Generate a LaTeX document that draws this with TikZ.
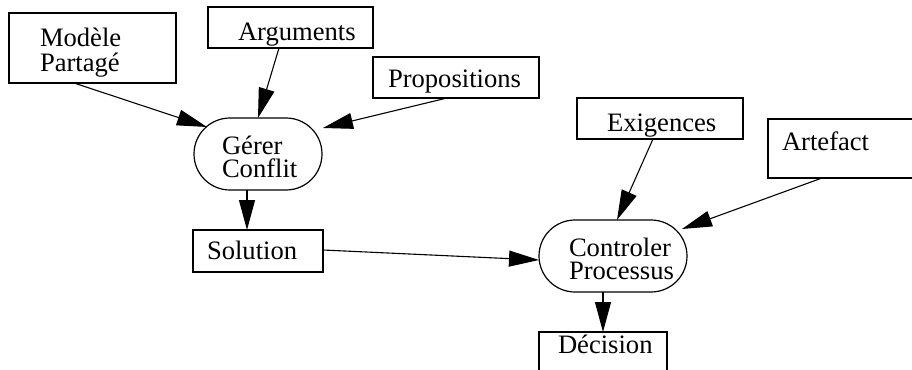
\documentclass[tikz,border=0pt]{standalone}
\usepackage{fontspec}
\setmainfont{Liberation Serif}
\usetikzlibrary{arrows.meta,calc}

\begin{document}
\begin{tikzpicture}[x=0.5pt,y=-0.5pt,
  box/.style={draw,line width=0.6pt,inner sep=0pt,outer sep=0pt},
  act/.style={box,rounded corners=18pt},
  lbl/.style={inner sep=0pt,outer sep=0pt,anchor=base west,align=left,
    font=\fontsize{13.3}{12.5}\selectfont},
  tight/.style={font=\fontsize{13.3}{11.5}\selectfont},
  conn/.style={-{Triangle[length=15pt,width=8pt]},line width=0.55pt}]
\useasboundingbox (0,0) rectangle (912,370);
\clip (0,0) rectangle (912,370);

% boxes (centres in pixel units, sizes in pt)
\node[box,minimum width=83.5pt,minimum height=35pt]   (mod)  at (92.5,48)   {};
\node[box,minimum width=82.5pt,minimum height=20.5pt] (arg)  at (290.5,27.5) {};
\node[box,minimum width=83pt,minimum height=20.5pt]   (prop) at (456,77.5)  {};
\node[act,minimum width=64pt,minimum height=36pt]     (ger)  at (258,154)   {};
\node[box,minimum width=65pt,minimum height=21pt]     (sol)  at (258,251)   {};
\node[box,minimum width=83pt,minimum height=20.5pt]   (exi)  at (660,118.5) {};
\node[box,minimum width=83pt,minimum height=29.5pt]   (art)  at (851,148.5) {};
\node[act,minimum width=74pt,minimum height=36pt]     (ctl)  at (613,256)   {};
\node[box,minimum width=64pt,minimum height=21pt]     (dec)  at (603,353)   {};

% labels (multi-line ones are anchored on their last baseline)
\node[lbl] (mod-t)  at (40,71)  {Modèle\\Partagé};
\node[lbl] (arg-t)  at (238,40) {Arguments};
\node[lbl] (prop-t) at (388,87) {Propositions};
\node[lbl,tight] (ger-t) at (222,177) {Gérer\\Conflit};
\node[lbl] (sol-t)  at (207,259) {Solution};
\node[lbl] (exi-t)  at (607,131) {Exigences};
\node[lbl] (art-t)  at (782,150) {Artefact};
\node[lbl,tight] (ctl-t) at (569,279) {Controler\\Processus};
\node[lbl] (dec-t)  at (558,353) {Décision};

% flows
\draw[conn] ($(mod.south west)+(65,0)$) -- ($(ger.north west)+(13,9)$);
\draw[conn] ($(arg.south west)+(71,0)$) -- (ger.north);
\draw[conn] ($(prop.south west)+(74,0)$) -- ($(ger.north east)+(1,10)$);
\draw[conn] ($(ger.south)+(-11,0)$) -- ($(sol.north)+(-11,0)$);
\draw[conn] ($(sol.east)+(0,-1)$) -- ($(ctl.west)+(0,4)$);
\draw[conn] ($(exi.south west)+(76,0)$) -- ($(ctl.north)+(4,0)$);
\draw[conn] ($(art.south west)+(54,0)$) -- ($(ctl.north east)+(-5,9)$);
\draw[conn] ($(ctl.south)+(-10,0)$) -- (dec.north);
\end{tikzpicture}
\end{document}
